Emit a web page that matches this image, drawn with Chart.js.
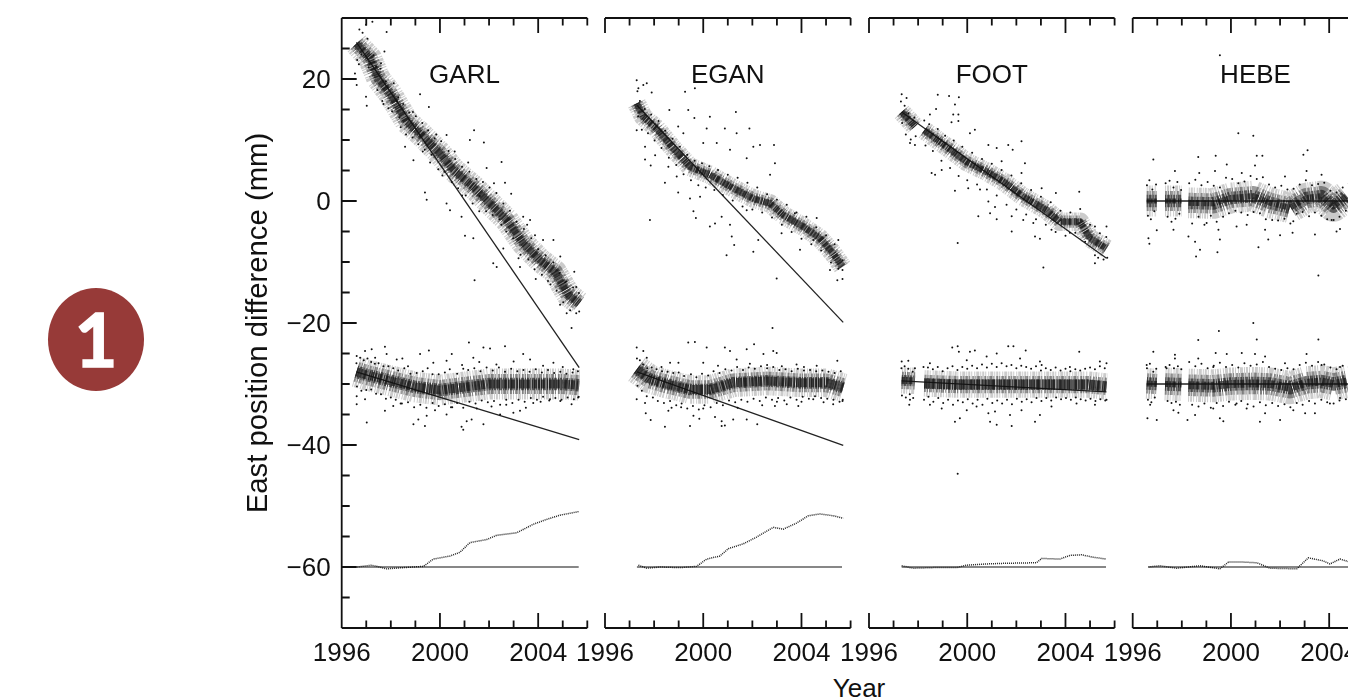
<!DOCTYPE html>
<html>
<head>
<meta charset="utf-8">
<title>East position difference</title>
<script src="https://cdn.jsdelivr.net/npm/chart.js@4"></script>
<style>
  html, body { margin: 0; height: 100%; background: #fff; overflow: hidden; }
  canvas { position: absolute; top: 0; }
  #badge { position: absolute; left: 48px; top: 288px; width: 96px; height: 103px; border-radius: 50%;
    background: #973a38; color: #fff; font: bold 74px Lato, sans-serif; line-height: 101px; text-align: center;
    -webkit-text-stroke: 1.5px #fff; }
  #yearTitle { position: absolute; left: 759px; width: 200px; top: 673px; text-align: center;
    font: 26px "Liberation Sans", Arial, sans-serif; color: #111; }
</style>
</head>
<body>
<div id="badge">1</div>
<div id="yearTitle">Year</div>

<script>
const yearTicks = [1996, 1997, 1998, 1999, 2000, 2001, 2002, 2003, 2004, 2005, 2006];
const labelledYears = [1996, 2000, 2004];
const mmTicks = [30, 25, 20, 15, 10, 5, 0, -5, -10, -15, -20, -25, -30, -35, -40, -45, -50, -55, -60, -65, -70];
const labelledMm = [20, 0, -20, -40, -60];
const stationNames = ['GARL', 'EGAN', 'FOOT', 'HEBE'];

// centre of the dense band of each cloud
const garlTopBand = [[1996.6,25.8],[1997.15,23.4],[1997.49,20.1],[1997.97,17.6],[1998.65,13],[1999.19,11.1],[2000,7.8],[2000.55,5.1],[2001.36,2.3],[2002.04,-0.4],[2002.72,-3.1],[2003.39,-6.9],[2004.07,-9.7],[2004.68,-11.6],[2005.23,-15.4],[2005.67,-16.8]];
const garlMidBand = [[1996.6,-28],[1997,-28.5],[1998,-29.5],[1999,-30.5],[2000,-31],[2001,-30.5],[2002,-30],[2003,-30],[2004,-30],[2005,-30],[2005.67,-30.2]];
const eganTopBand = [[1997.29,16],[1997.56,13.8],[1998.1,11.9],[1998.78,8.6],[1999.46,5.6],[2000.27,4.3],[2001.22,2.1],[2002.04,0.4],[2002.72,-0.4],[2003.26,-2.3],[2004.07,-4.2],[2004.75,-6.1],[2005.29,-8.6],[2005.67,-10.8]];
const eganMidBand = [[1997.29,-27.6],[1997.83,-29.2],[1998.5,-30],[1999.46,-30.9],[2000.27,-30.9],[2001.22,-29.8],[2002.58,-29.5],[2003.94,-29.8],[2005.02,-29.8],[2005.7,-30.6]];
const footTopBandA = [[1997.33,14.6],[1997.87,12.2]];
const footTopBandB = [[1998.25,11.6],[1999.16,8.9],[1999.98,6.4],[2000.79,4.8],[2001.47,3.2],[2002.28,0.7],[2003.23,-1.5],[2003.77,-3.4],[2004.59,-3.4],[2005,-6.1],[2005.67,-7.8]];
const footMidBandA = [[1997.33,-29.4],[1997.87,-29.5]];
const footMidBandB = [[1998.25,-29.9],[1999.6,-30.1],[2001,-30.1],[2002.4,-30.1],[2003.8,-30.1],[2004.9,-30.1],[2005.67,-30.4]];
const hebeTopBandA = [[1996.57,0],[1996.98,0]];
const hebeTopBandB = [[1997.32,0],[1997.99,0]];
const hebeTopBandC = [[1998.27,-0.3],[1999.28,-0.4],[2000,0.5],[2000.91,0.8],[2001.59,-0.3],[2002.4,-1.1],[2003.08,0.5],[2003.69,0.8],[2004.17,-0.9],[2004.71,0.8]];
const hebeMidBandA = [[1996.57,-29.9],[1996.98,-30]];
const hebeMidBandB = [[1997.32,-30],[1997.99,-30.1]];
const hebeMidBandC = [[1998.27,-30.2],[1999.28,-30.3],[2000,-30],[2000.91,-29.9],[2001.59,-30],[2002.4,-30.6],[2003.08,-29.8],[2003.69,-29.6],[2004.17,-30],[2004.71,-29.6]];

// single points outside the dense bands
const garlTopDots = [[1996.99,28.9],[1997.25,29.4],[1997.83,27.7],[1997.74,24.5],[1996.54,20.9],[1996.61,19],[1996.99,17.1],[1997.02,15.6],[1999.19,17.5],[1999.55,15.4],[2001.39,11.6],[2001.22,10],[2001.79,9.6],[2000.27,10.8],[1999.39,1.4],[1999.46,0.2],[1998.92,6.7],[1998.58,8.9],[2002.51,6.4],[2002.65,3],[2000.27,-0.4],[2000.41,-1.5],[2000.88,-2.6],[2001.02,-5.7],[2001.36,-6.1],[2001.41,-13],[2002.17,-10.2],[2002.31,-10.8],[2003.67,-3.1],[2003.39,-2.6],[2004.62,-6.4],[2003.87,-5.6],[2005.47,-11.6],[2005.36,-20.8],[2005.16,-18.4],[2005.67,-18.1],[2004.89,-17],[2003.26,-10.8],[2002.58,-7.8],[1996.7,22.4],[1996.85,27.6],[1997.4,22.1],[1997.6,22.6],[1997.65,16.4],[1997.9,15.2],[1998.3,17],[1998.4,12.1],[1998.9,14.6],[1999.3,8.1],[1999.6,6.3],[1999.85,10.9],[2000.1,4.2],[2000.6,8.1],[2000.9,0.9],[2001.15,6.3],[2001.6,-1.7],[2001.9,5.4],[2002.2,2.9],[2002.5,-3.9],[2002.9,1.2],[2003.2,-9.4],[2003.55,-3.9],[2003.9,-12.8],[2004.2,-6.4],[2004.4,-13.1],[2004.9,-9.1],[2005.1,-13.3],[2005.55,-14.1]];
const garlTopEdge = [[1996.63,23.1],[1996.72,28.1],[1996.8,24],[1997.05,26.6],[1997.1,21.9],[1997.3,23.9],[1997.45,18.2],[1997.58,21.7],[1997.7,15.9],[1997.8,19.6],[1998.05,14.7],[1998.12,19.3],[1998.25,16.3],[1998.35,13.7],[1998.5,15.9],[1998.62,10.9],[1998.75,14.5],[1998.88,10.4],[1999.02,13.9],[1999.12,9.3],[1999.28,12.8],[1999.38,8.4],[1999.52,11.6],[1999.66,7.6],[1999.78,10.3],[1999.93,5.2],[2000.05,9.8],[2000.18,4.8],[2000.35,8.2],[2000.48,3.1],[2000.62,6.9],[2000.74,2.1],[2000.9,5.6],[2001.05,0.9],[2001.2,4.8],[2001.33,-0.4],[2001.48,3.6],[2001.62,0.8],[2001.75,3.1],[2001.88,-1.7],[2002.02,2.2],[2002.15,-2.3],[2002.3,1.3],[2002.42,-3],[2002.58,-0.4],[2002.7,-5],[2002.85,-1.6],[2002.98,-6.1],[2003.12,-3.4],[2003.28,-8.8],[2003.42,-4.6],[2003.6,-9.6],[2003.72,-6.1],[2003.85,-11.2],[2004,-7.9],[2004.15,-12.1],[2004.3,-8.9],[2004.5,-13.7],[2004.62,-10.1],[2004.75,-14.7],[2004.88,-11.8],[2005.02,-16.6],[2005.15,-13.2],[2005.3,-17.9],[2005.42,-14.2],[2005.55,-18.4],[2005.66,-15.1]];
const garlMidDots = [[1996.61,-25.4],[1996.95,-24.6],[1997.22,-24.3],[1997.76,-23.9],[1997.36,-25.7],[1997.83,-25.1],[1998.24,-26],[1998.47,-25.8],[1999.19,-25.1],[1999.55,-24.5],[1999.73,-26.5],[2000.27,-26.2],[2000.48,-25.1],[2001.18,-23.2],[2001.36,-25.7],[2001.77,-24],[2002.04,-24.2],[2002.65,-23.8],[2003.39,-25.1],[2003.67,-26],[2004.62,-26.5],[2005.43,-27.6],[1996.61,-32],[1996.61,-33.3],[1997.02,-36.3],[1996.95,-32.5],[1997.76,-34.4],[1998.1,-33.6],[1998.92,-36.6],[1999.12,-35.8],[1999.39,-36.9],[1999.46,-35.2],[2000.27,-35],[2000.88,-37],[2000.95,-37.5],[2001.09,-36.1],[2001.29,-35.8],[2001.77,-36.6],[2002.45,-35],[2002.99,-34.7],[2003.26,-34.4],[2003.8,-33.1],[2004.48,-32.5],[2005.36,-33.3],[2005.63,-32.2],[1998.7,-27.1],[2000.9,-26.9],[2001.6,-26.4],[2002.3,-26.8],[2003,-26.3],[2004.2,-27],[2005,-27.2],[1998.4,-33.2],[1999.8,-34.3],[2000.5,-33.8],[2001.5,-34],[2002.1,-33.7],[2002.7,-33.4],[2003.5,-33.9],[2004.1,-32.9],[2004.9,-32.8]];
const garlMidEdge = [[1996.6,-26.6],[1996.75,-25.7],[1996.9,-26.1],[1997.05,-25.8],[1997.2,-26.4],[1997.35,-26.7],[1997.5,-26.6],[1997.7,-27.1],[1997.9,-27.1],[1998.1,-27.4],[1998.3,-27.8],[1998.55,-27.4],[1998.8,-28.3],[1999.05,-28.2],[1999.3,-27.9],[1999.5,-27.4],[1999.7,-28.4],[1999.95,-28.4],[2000.2,-28.1],[2000.4,-27.6],[2000.7,-28.3],[2000.95,-27.5],[2001.15,-27.7],[2001.4,-27.4],[2001.65,-27.9],[2001.9,-27.3],[2002.15,-27.8],[2002.4,-27.3],[2002.65,-28],[2002.9,-27.5],[2003.15,-27.9],[2003.4,-27.7],[2003.65,-28],[2003.9,-27.6],[2004.15,-28.1],[2004.4,-27.7],[2004.65,-28.2],[2004.9,-28],[2005.15,-28.3],[2005.4,-28.1],[2005.62,-27.9],[1996.62,-30.4],[1996.8,-31.1],[1997,-31],[1997.2,-30.9],[1997.4,-31.6],[1997.6,-31.7],[1997.8,-32.4],[1998,-32.2],[1998.2,-32.6],[1998.45,-33.2],[1998.7,-33],[1998.95,-33.8],[1999.2,-33.4],[1999.45,-33.9],[1999.7,-33.1],[1999.95,-33.6],[2000.2,-33.3],[2000.45,-33.8],[2000.7,-33.1],[2000.95,-33.9],[2001.2,-32.9],[2001.45,-33.2],[2001.7,-32.7],[2001.95,-33],[2002.2,-32.8],[2002.45,-33.4],[2002.7,-32.6],[2002.95,-33.1],[2003.2,-32.6],[2003.45,-32.9],[2003.7,-32.3],[2003.95,-32.6],[2004.2,-32.1],[2004.45,-32.7],[2004.7,-32.3],[2004.95,-32.6],[2005.2,-32.2],[2005.45,-32.5],[2005.65,-32.1]];
const eganTopDots = [[1997.29,19.8],[1997.36,18.5],[1997.56,19],[1997.7,19.3],[1997.9,17.8],[1999.26,17.9],[1999.66,18.5],[1999.39,14.9],[1998.62,14.9],[1999.64,13.6],[2000.27,13.8],[2000.14,11.9],[2001.33,14.6],[2000.88,11.9],[2001.88,11.9],[2001.36,11.1],[2000,9.5],[2000.55,9.5],[2001.09,8.4],[2002.04,8.9],[2002.31,9.2],[2002.88,9.2],[2002.92,6.2],[2002.72,4.3],[2001.77,7],[1998.98,12.2],[1999.19,11.1],[1997.83,-3.1],[1998.44,3],[1998.98,1.4],[1999.46,0.4],[1999.87,0.7],[1999.6,-1.7],[1999.7,-2.8],[2000.27,-4.2],[2000.48,-3.7],[2000.75,-2.6],[2001.09,-3.9],[2001.16,-5.8],[2001.26,-7.2],[2000.95,-8.9],[2001.77,-1.5],[2002.04,-8.3],[2002.24,-6.4],[2002.99,-12.7],[2002.82,-20.8],[1997.29,11.6],[1997.63,8.9],[1997.63,6.8],[1998.04,7.5],[1997.86,5.8],[1998.58,5.6],[1998.92,4],[2003.19,-5.3],[2003.94,-8],[2004.48,-6.4],[2003.73,-2],[2004.62,-2.8],[2005.5,-6.4],[2005.16,-11.3],[2005.46,-13],[2005.67,-12.8],[2005.67,-9.7],[2005.67,-11.3]];
const eganTopEdge = [[1997.32,18],[1997.35,13.9],[1997.42,16.4],[1997.5,11.7],[1997.62,15.1],[1997.75,11.1],[1997.88,14.2],[1998.02,9.9],[1998.18,13.1],[1998.3,8.7],[1998.45,11.5],[1998.6,7.1],[1998.75,10.2],[1998.9,5.9],[1999.05,8.9],[1999.2,4.4],[1999.35,7.6],[1999.5,3.4],[1999.65,6.6],[1999.8,2.6],[1999.95,6.2],[2000.1,2.2],[2000.25,5.7],[2000.45,1.8],[2000.6,5.1],[2000.8,1],[2001,4.3],[2001.2,0.1],[2001.4,3.8],[2001.6,-0.9],[2001.8,3],[2002,-1.4],[2002.2,2.2],[2002.4,-1.9],[2002.6,1.1],[2002.8,-2.7],[2003,0.2],[2003.2,-3.9],[2003.4,-0.6],[2003.6,-5.1],[2003.8,-1.9],[2004,-6.2],[2004.2,-2.6],[2004.4,-7.1],[2004.6,-4.3],[2004.8,-8.1],[2005,-5.6],[2005.2,-10.1],[2005.35,-7.1],[2005.5,-11.1]];
const eganMidDots = [[1997.29,-24],[1997.56,-24.6],[1997.7,-25.7],[1999.39,-23.2],[1999.66,-23.1],[2000.14,-24],[2000.88,-24],[2001.09,-24.6],[2001.77,-24.3],[2002.07,-23.5],[2002.85,-24.6],[2002.99,-24.9],[2002.45,-25.1],[2001.36,-26],[2000,-26.5],[1998.65,-26.5],[1998.99,-26.5],[2003.8,-26.8],[2004.62,-27],[2005.46,-26.2],[1997.29,-32.5],[1997.63,-33.1],[1997.66,-34.8],[1997.86,-35.9],[1998.44,-37],[1998.58,-34.4],[1998.71,-33.9],[1999.46,-36.9],[1999.6,-35.2],[1999.84,-35.7],[2000.48,-35.4],[2000.75,-36.1],[2000.75,-36.9],[2000.88,-36.8],[2001.22,-35.8],[2001.77,-35.8],[2002.2,-36.6],[2002.92,-33.6],[2003.4,-33.3],[2003.87,-33.6],[2004.48,-32.5],[2005.29,-33.3],[2005.67,-32.8],[1998.3,-27.2],[2000.6,-27],[2001.9,-26.7],[2002.6,-26.9],[2003.2,-27.1],[2004.1,-27.2],[1999.1,-33.8],[2000,-34],[2001.4,-33.9],[2002.4,-33.5],[2003,-32.9],[2004,-32.9],[2004.9,-33]];
const eganMidEdge = [[1997.3,-25.8],[1997.42,-26.1],[1997.55,-26.8],[1997.72,-27.4],[1997.9,-27.3],[1998.1,-27.6],[1998.32,-27.9],[1998.55,-28],[1998.78,-28.2],[1999,-28.1],[1999.22,-28.7],[1999.5,-28.4],[1999.72,-28.9],[1999.95,-28.3],[2000.2,-28.6],[2000.42,-27.9],[2000.66,-28.2],[2000.9,-27.6],[2001.15,-27.8],[2001.38,-27.2],[2001.62,-27.7],[2001.85,-27.3],[2002.1,-27.5],[2002.35,-27.1],[2002.6,-27.4],[2002.85,-27.2],[2003.1,-27.7],[2003.35,-27.6],[2003.6,-27.9],[2003.85,-27.5],[2004.1,-27.8],[2004.35,-27.7],[2004.6,-27.9],[2004.85,-27.8],[2005.1,-28],[2005.35,-28.2],[2005.6,-27.9],[1997.32,-30.3],[1997.5,-31.1],[1997.7,-32],[1997.95,-32.2],[1998.15,-32.8],[1998.4,-33.1],[1998.65,-32.8],[1998.9,-33.5],[1999.12,-33.2],[1999.35,-34],[1999.58,-33.6],[1999.82,-34.2],[2000.05,-33.5],[2000.3,-33.8],[2000.55,-33.1],[2000.8,-33.5],[2001.05,-32.7],[2001.3,-33],[2001.55,-32.6],[2001.8,-32.9],[2002.05,-32.4],[2002.3,-32.8],[2002.55,-32.2],[2002.8,-32.6],[2003.05,-32.3],[2003.3,-32.7],[2003.55,-32.2],[2003.8,-32.6],[2004.05,-32.1],[2004.3,-32.4],[2004.55,-32],[2004.8,-32.3],[2005.05,-32.4],[2005.3,-32.6],[2005.55,-32.9],[2005.68,-32.6]];
const footTopDots = [[1997.33,17.5],[1997.53,16.9],[1998.8,17.4],[1999.26,17.2],[1999.66,17],[1999.5,15.8],[1999.43,14.2],[1999.64,14.2],[1999.64,13.1],[1999.36,12.9],[1998.73,15.1],[1998.48,14.2],[2000.31,11.7],[2000.11,11.1],[2000.86,9.2],[2001.2,8.7],[2001.67,9.2],[2001.85,8.4],[2002.21,9.8],[2002.35,6.2],[2001.4,6.5],[2002.21,4.6],[2003.03,2.1],[2003.61,1.3],[2004.56,1.5],[1997.67,9.5],[1997.87,9.2],[1998.55,4.6],[1998.96,5.1],[1998.69,4.3],[1999.5,1.7],[2000.04,2.1],[2000.52,1.9],[2000.86,-0.1],[2000.93,-2],[2001.13,-1],[2000.45,-2.5],[2001.2,-3],[2001.81,-2.5],[2001.81,-5],[1999.61,-6.9],[2002.28,-3.1],[2002.69,-3.6],[2002.76,-5.8],[2002.96,-6.2],[2003.1,-10.9],[2003.43,-4.7],[2004.18,-5.2],[2005.2,-4.2],[2005.67,-4.2],[2005.2,-10.2],[2005.33,-9.3],[2005.7,-9.3]];
const footTopEdge = [[1997.3,16.3],[1997.35,12.8],[1997.45,15.6],[1997.5,10.9],[1997.6,14.4],[1997.7,10.1],[1997.85,13.7],[1997.9,10.6],[1998.25,13.2],[1998.3,9.1],[1998.45,12.6],[1998.6,8.2],[1998.8,11.8],[1998.95,6.6],[1999.1,10.7],[1999.3,5.4],[1999.45,9.9],[1999.65,4.1],[1999.8,8.9],[2000,3.4],[2000.2,7.9],[2000.4,2.7],[2000.6,6.9],[2000.8,1.9],[2001,6.1],[2001.2,0.9],[2001.4,5.1],[2001.6,-0.6],[2001.8,4.2],[2002,-1.4],[2002.2,2.9],[2002.4,-2.2],[2002.6,1.8],[2002.8,-3],[2003,0.7],[2003.2,-3.9],[2003.4,-0.2],[2003.6,-5.1],[2003.8,-1.6],[2004,-5.7],[2004.2,-1.9],[2004.4,-5.2],[2004.6,-1.3],[2004.8,-6.7],[2005,-3.9],[2005.2,-8.9],[2005.4,-5.3],[2005.55,-9.6],[2005.66,-5.9]];
const footMidDots = [[1997.33,-26.3],[1997.6,-26.2],[1997.87,-27.4],[1998.48,-26.6],[1999.61,-23.8],[1999.39,-24],[1999.66,-24.7],[2000.11,-24.7],[2000.31,-24.5],[1999.98,-26.1],[2000.79,-25.5],[2001.2,-25],[2001.67,-23.8],[2001.88,-23.8],[2002.38,-24.5],[2002.15,-25.8],[2002.96,-26.3],[2003.03,-26.9],[2004.56,-24.7],[2004.18,-27.2],[2005.4,-26.3],[2005.67,-26.6],[1997.64,-33.4],[1997.67,-32.6],[1998.48,-33.4],[1998.96,-34],[1999.5,-36.2],[1999.7,-35.6],[1999.98,-34.3],[2000.38,-33.7],[2000.86,-34.8],[2000.93,-36.2],[2001.2,-36.7],[2001.13,-34.5],[2001.81,-36.9],[2001.74,-35.1],[2002.21,-34.3],[2002.76,-36.2],[2002.96,-35.1],[2003.43,-33.7],[2004.45,-33.2],[2005.2,-33.4],[2005.67,-32.6],[1999.61,-44.7]];
const footMidEdge = [[1997.32,-27.4],[1997.45,-27.1],[1997.6,-27.5],[1997.78,-28],[1998.22,-27.2],[1998.4,-27.3],[1998.6,-27.6],[1998.8,-27.2],[1999,-27.9],[1999.2,-27.4],[1999.4,-27.1],[1999.6,-27.7],[1999.8,-27.2],[2000,-27.5],[2000.2,-27],[2000.4,-27.4],[2000.6,-26.8],[2000.8,-27.3],[2001,-26.7],[2001.2,-27.2],[2001.4,-26.6],[2001.6,-27.1],[2001.8,-26.9],[2002,-27.4],[2002.2,-27],[2002.4,-27.2],[2002.6,-27.5],[2002.8,-27.1],[2003,-27.8],[2003.2,-27.4],[2003.4,-27.7],[2003.6,-27.3],[2003.8,-27.8],[2004,-27.5],[2004.2,-27.9],[2004.4,-27.6],[2004.6,-27.8],[2004.8,-27.5],[2005,-27.3],[2005.2,-27.6],[2005.4,-27.1],[2005.6,-27.4],[1997.34,-31.9],[1997.5,-32.2],[1997.66,-31.7],[1997.8,-32.3],[1998.24,-32.6],[1998.42,-32.1],[1998.62,-32.9],[1998.82,-32.3],[1999.02,-33.1],[1999.22,-32.6],[1999.42,-33.4],[1999.62,-32.7],[1999.82,-33],[2000.02,-32.5],[2000.22,-33.2],[2000.42,-32.6],[2000.62,-33.4],[2000.82,-32.4],[2001.02,-33.1],[2001.22,-32.7],[2001.42,-33.2],[2001.62,-32.6],[2001.82,-33.3],[2002.02,-32.4],[2002.22,-32.9],[2002.42,-32.5],[2002.62,-33],[2002.82,-32.3],[2003.02,-32.8],[2003.22,-32.3],[2003.42,-32.7],[2003.62,-32.2],[2003.82,-32.5],[2004.02,-32.3],[2004.22,-32.6],[2004.42,-32.2],[2004.62,-32.5],[2004.82,-32.7],[2005.02,-32.4],[2005.22,-32.8],[2005.42,-32.5],[2005.62,-32.7]];
const hebeTopDots = [[1999.55,23.9],[2000.3,11.1],[2000.91,10.7],[1996.84,6.8],[1998.67,7.2],[1999.38,7.4],[2001.05,7.4],[2001.28,7.4],[2002.95,7.6],[2003.12,8.3],[1999.83,6],[2000.98,5.8],[1997.72,4.9],[1999.35,4.9],[2003.08,4.9],[2003.69,4.3],[1998.71,4.6],[2000.44,4.6],[2002.2,4],[1996.64,-6.1],[1996.68,-7],[1996.98,-4.8],[1997.66,-4.7],[1998.27,-5.8],[1998.54,-6.7],[1998.74,-8],[1998.58,-9.1],[1999.45,-8.4],[1999.55,-6.3],[1999.49,-4.7],[2001.12,-7.6],[2001.39,-4.7],[2001.52,-6.3],[2002,-5.6],[2002.51,-5.2],[2003.42,-5.5],[2003.56,-12.2],[2004.3,-5],[2004.44,-4.6],[2002.54,-3.3],[2004.1,-3.1],[2000.23,-4.2],[2000.64,-3.9],[1999.01,-3.6]];
const hebeTopEdge = [[1996.58,2.6],[1996.62,-2.4],[1996.68,3.4],[1996.74,-3],[1996.8,1.9],[1996.88,-1.7],[1996.95,2.7],[1997.34,2.9],[1997.42,-2.6],[1997.5,3.3],[1997.58,-3.4],[1997.66,2.2],[1997.74,-2.9],[1997.82,3.1],[1997.9,-2.1],[1997.97,1.8],[1998.3,2.9],[1998.42,-3.7],[1998.55,3.5],[1998.68,-2.6],[1998.8,2.6],[1998.92,-3.9],[1999.05,3.1],[1999.18,-2.4],[1999.3,2.5],[1999.42,-3.4],[1999.55,2.2],[1999.68,-2.6],[1999.8,3.8],[1999.92,-2],[2000.05,3.6],[2000.18,-1.6],[2000.3,2.9],[2000.42,-1.9],[2000.55,3.2],[2000.68,-2.3],[2000.8,4.1],[2000.92,-1.8],[2001.05,3.6],[2001.18,-2],[2001.3,3.9],[2001.42,-3],[2001.55,2.7],[2001.68,-3.1],[2001.8,2.2],[2001.92,-3.2],[2002.05,2.5],[2002.18,-2.9],[2002.3,1.9],[2002.42,-3.7],[2002.55,2],[2002.68,-2.1],[2002.8,2.7],[2002.92,-1.8],[2003.05,3.4],[2003.18,-2.5],[2003.3,2.6],[2003.42,-1.9],[2003.55,2.8],[2003.68,-2.4],[2003.8,3],[2003.92,-3],[2004.05,1.7],[2004.18,-3.1],[2004.3,1.4],[2004.42,-2.6],[2004.55,2.2],[2004.68,-1.6],[2004.8,2.9]];
const hebeMidDots = [[2000.91,-20],[1999.51,-21.3],[1998.67,-22.8],[2001.05,-22.7],[2003.56,-22.7],[1996.84,-24.7],[1997.72,-25.2],[1997.72,-25.8],[1996.57,-26.9],[1998.67,-25.8],[1999.38,-24.9],[1999.83,-25.1],[2000.44,-24.9],[2000.98,-25.1],[2001.39,-25.5],[2003.08,-25.1],[2002.2,-26.6],[2003.69,-26.9],[2004.44,-27.2],[1999.28,-27.2],[1997.38,-27.4],[1996.6,-35.6],[1996.98,-35.9],[1996.71,-33.4],[1997.66,-34.3],[1997.86,-34.7],[1998.23,-35.9],[1998.54,-35.1],[1999.55,-35.6],[1999.69,-36.1],[1999.28,-34],[2000.64,-34],[2001.18,-36.2],[2001.39,-34.8],[2002,-35.9],[2002.54,-34.3],[2003.02,-34.8],[2003.42,-34.8],[2004.03,-33.2],[2004.44,-32.3],[2000.23,-33.2]];
const hebeMidEdge = [[1996.58,-27.4],[1996.62,-32.6],[1996.7,-26.7],[1996.76,-33],[1996.84,-28],[1996.9,-32.2],[1996.96,-27.5],[1997.34,-27.2],[1997.42,-32.8],[1997.5,-26.9],[1997.58,-33.1],[1997.68,-27.4],[1997.76,-32.9],[1997.84,-27.1],[1997.92,-33.4],[1997.98,-27.6],[1998.3,-26.4],[1998.42,-33.4],[1998.55,-27.1],[1998.68,-33.7],[1998.8,-26.7],[1998.92,-33.2],[1999.05,-27.4],[1999.18,-33.9],[1999.3,-27],[1999.42,-33.1],[1999.55,-26.5],[1999.68,-33.6],[1999.8,-27.2],[1999.92,-32.9],[2000.05,-26.9],[2000.18,-33.4],[2000.3,-27.3],[2000.42,-32.8],[2000.55,-26.6],[2000.68,-33.3],[2000.8,-27],[2000.92,-33.7],[2001.05,-26.8],[2001.18,-33],[2001.3,-26.4],[2001.42,-33.5],[2001.55,-27.2],[2001.68,-33.1],[2001.8,-27.5],[2001.92,-33.6],[2002.05,-27.7],[2002.18,-33.3],[2002.3,-27.4],[2002.42,-33.8],[2002.55,-27.6],[2002.68,-33.1],[2002.8,-26.9],[2002.92,-33.4],[2003.05,-26.5],[2003.18,-32.8],[2003.3,-27],[2003.42,-33.2],[2003.55,-26.4],[2003.68,-32.6],[2003.8,-26.8],[2003.92,-33],[2004.05,-27.3],[2004.18,-33.2],[2004.3,-27.6],[2004.42,-32.7],[2004.55,-27],[2004.68,-32.5],[2004.8,-27.2]];

// straight fit lines
const garlTopFit = [[1996.6,26],[2005.67,-27.3]];
const garlMidFit = [[1996.6,-28],[2005.67,-39.1]];
const eganTopFit = [[1997.3,15.7],[2005.7,-19.9]];
const eganMidFit = [[1997.3,-28],[2005.7,-40.05]];
const footTopFit = [[1997.33,14.6],[2005.67,-9.4]];
const footMidFit = [[1997.33,-29.5],[2005.67,-31.3]];
const hebeTopFit = [[1996.57,0],[2005.67,0]];
const hebeMidFit = [[1996.57,-30],[2005.67,-30]];

// lower curves and their -60 base lines
const garlCurve = [[1996.61,-60],[1997.22,-59.7],[1997.83,-60.3],[1998.51,-60.1],[1999.33,-59.9],[1999.73,-58.7],[2000.41,-58.2],[2000.81,-57.6],[2001.22,-56],[2001.9,-55.5],[2002.31,-54.8],[2003.12,-54.4],[2003.8,-53],[2004.34,-52.2],[2004.89,-51.5],[2005.67,-50.9]];
const eganCurve = [[1997.36,-59.7],[1997.7,-60.2],[1998.24,-60],[1999.05,-60.1],[1999.73,-59.9],[2000.14,-58.7],[2000.68,-58.2],[2001.02,-57],[2001.63,-56.2],[2002.17,-55.1],[2002.85,-53.5],[2003.26,-53.8],[2003.8,-52.8],[2004.28,-51.6],[2004.75,-51.3],[2005.29,-51.6],[2005.7,-52]];
const footCurve = [[1997.33,-59.8],[1997.8,-60.2],[1998.62,-60.1],[1999.57,-60.1],[1999.98,-59.7],[2000.79,-59.5],[2001.47,-59.4],[2002.82,-59.3],[2003.03,-58.6],[2003.77,-58.7],[2004.18,-58.1],[2004.66,-58],[2005.13,-58.4],[2005.67,-58.7]];
const hebeCurve = [[1996.64,-60],[1997.11,-59.8],[1997.79,-60.2],[1998.74,-59.8],[1999.55,-60.3],[1999.9,-59.2],[2000.51,-59.2],[2001.05,-59.3],[2001.59,-60.2],[2002.68,-60.3],[2003.15,-58.5],[2003.76,-59],[2004.03,-59.5],[2004.44,-58.7],[2004.77,-59.1]];
const garlBase = [[1996.6,-60],[2005.65,-60]];
const eganBase = [[1997.3,-60],[2005.65,-60]];
const footBase = [[1997.33,-60],[2005.65,-60]];
const hebeBase = [[1996.64,-60],[2005.65,-60]];

const INK = '#111';
const FONT = '"Liberation Sans", Arial, sans-serif';
const PLOT_W = 245.6;

const panels = [
  { left: 341.7, bands: [[garlTopBand, 22, 7], [garlMidBand, 28, 9]], dots: [garlTopDots, garlTopEdge, garlMidDots, garlMidEdge], fits: [garlTopFit, garlMidFit], curve: garlCurve, base: garlBase },
  { left: 605, bands: [[eganTopBand, 17, 6], [eganMidBand, 26, 9]], dots: [eganTopDots, eganTopEdge, eganMidDots, eganMidEdge], fits: [eganTopFit, eganMidFit], curve: eganCurve, base: eganBase },
  { left: 869, bands: [[footTopBandA, 17, 6], [footTopBandB, 17, 6], [footMidBandA, 24, 7], [footMidBandB, 24, 10]], dots: [footTopDots, footTopEdge, footMidDots, footMidEdge], fits: [footTopFit, footMidFit], curve: footCurve, base: footBase },
  { left: 1132.7, bands: [[hebeTopBandA, 28, 5], [hebeTopBandB, 28, 5], [hebeTopBandC, 28, 6], [hebeMidBandA, 28, 6], [hebeMidBandB, 30, 6], [hebeMidBandC, 30, 8]], dots: [hebeTopDots, hebeTopEdge, hebeMidDots, hebeMidEdge], fits: [hebeTopFit, hebeMidFit], curve: hebeCurve, base: hebeBase }
];

// inward ticks on all sides, drawn from the chart's own scales
const inwardAxes = {
  id: 'inwardAxes',
  afterDatasetsDraw(chart, args, opts) {
    const { ctx, chartArea: a, scales: { x, y } } = chart;
    ctx.save();
    ctx.strokeStyle = INK;
    ctx.lineWidth = 1.8;
    ctx.beginPath();
    ctx.moveTo(a.left, a.top); ctx.lineTo(a.right, a.top);
    ctx.moveTo(a.left, a.bottom); ctx.lineTo(a.right, a.bottom);
    yearTicks.forEach(year => {
      const px = x.getPixelForValue(year);
      const len = labelledYears.includes(year) ? 15 : 7.5;
      ctx.moveTo(px, a.top); ctx.lineTo(px, a.top + len);
      ctx.moveTo(px, a.bottom); ctx.lineTo(px, a.bottom - len);
    });
    if (opts.showY) {
      ctx.moveTo(a.left, a.top); ctx.lineTo(a.left, a.bottom);
      mmTicks.forEach(mm => {
        const py = y.getPixelForValue(mm);
        ctx.moveTo(a.left, py); ctx.lineTo(a.left + (labelledMm.includes(mm) ? 15 : 8), py);
      });
    }
    ctx.stroke();
    ctx.fillStyle = INK;
    ctx.font = '26px ' + FONT;
    ctx.textAlign = 'center';
    ctx.textBaseline = 'middle';
    ctx.fillText(opts.name, x.getPixelForValue(2001), y.getPixelForValue(20.5));
    ctx.restore();
  }
};

// translucent layers for the part of a cloud too dense to read point by point
function bandDatasets(seg, wide, core) {
  const layer = (alpha, w, dash) => ({ data: seg, showLine: true, pointRadius: 0, borderColor: `rgba(20,20,20,${alpha})`, borderWidth: w, borderDash: dash, borderJoinStyle: 'round' });
  return [
    layer(0.22, wide * 1.1, [1, 1, 2, 1, 1, 2, 1, 1, 3, 1]),
    layer(0.42, wide * 0.72, [2, 1, 1, 1, 3, 1, 1, 2]),
    layer(0.6, wide * 0.45, [1, 1, 3, 1, 1, 1, 2, 1]),
    layer(0.7, core, [3, 1, 2, 1, 4, 2, 1, 1])
  ];
}

panels.forEach((p, i) => {
  const showY = i === 0;
  const axisW = showY ? 100 : 0;
  const canvasLeft = Math.floor(p.left - axisW - 42);
  const padLeft = p.left - axisW - canvasLeft;
  const width = Math.ceil(padLeft + axisW + PLOT_W + 45);

  const canvas = document.createElement('canvas');
  canvas.width = width;
  canvas.height = 697;
  canvas.style.left = canvasLeft + 'px';
  document.body.appendChild(canvas);

  const datasets = [];
  p.bands.forEach(b => datasets.push(...bandDatasets(b[0], b[1], b[2])));
  p.dots.forEach(d => datasets.push({ data: d, pointRadius: 1, pointBackgroundColor: INK, pointBorderWidth: 0 }));
  p.fits.forEach(f => datasets.push({ data: f, showLine: true, pointRadius: 0, borderColor: '#222', borderWidth: 1.3 }));
  datasets.push({ data: p.base, showLine: true, pointRadius: 0, borderColor: '#111', borderWidth: 1.2 });
  datasets.push({ data: p.curve, showLine: true, pointRadius: 0, borderColor: '#222', borderWidth: 1.5, borderDash: [1, 1] });

  new Chart(canvas, {
    type: 'scatter',
    data: { datasets },
    plugins: [inwardAxes],
    options: {
      responsive: false,
      animation: false,
      devicePixelRatio: 1,
      layout: { padding: { left: padLeft, right: width - padLeft - axisW - PLOT_W, top: 18, bottom: 0 } },
      plugins: {
        legend: { display: false },
        tooltip: { enabled: false },
        inwardAxes: { showY, name: stationNames[i] }
      },
      scales: {
        x: {
          type: 'linear', min: 1996, max: 2006,
          grid: { display: false, drawTicks: false },
          border: { display: false },
          afterFit: s => { s.height = 69; s.paddingLeft = 0; s.paddingRight = 0; },
          ticks: {
            stepSize: 1, autoSkip: false, maxRotation: 0, padding: 10, color: INK,
            font: { family: FONT, size: 26 },
            callback: v => labelledYears.includes(v) ? String(v) : ''
          }
        },
        y: {
          type: 'linear', min: -70, max: 30, display: showY,
          grid: { display: false, drawTicks: false },
          border: { display: false },
          afterFit: s => { s.width = axisW; s.paddingTop = 0; s.paddingBottom = 0; },
          title: { display: true, text: 'East position difference (mm)', color: INK, padding: 0, font: { family: FONT, size: 29.3 } },
          ticks: {
            stepSize: 5, autoSkip: false, padding: 11, labelOffset: 1.5, color: INK,
            font: { family: FONT, size: 26 },
            callback: v => labelledMm.includes(v) ? (v < 0 ? '\u2212' + Math.abs(v) : String(v)) : ''
          }
        }
      }
    }
  });
});
</script>
</body>
</html>
